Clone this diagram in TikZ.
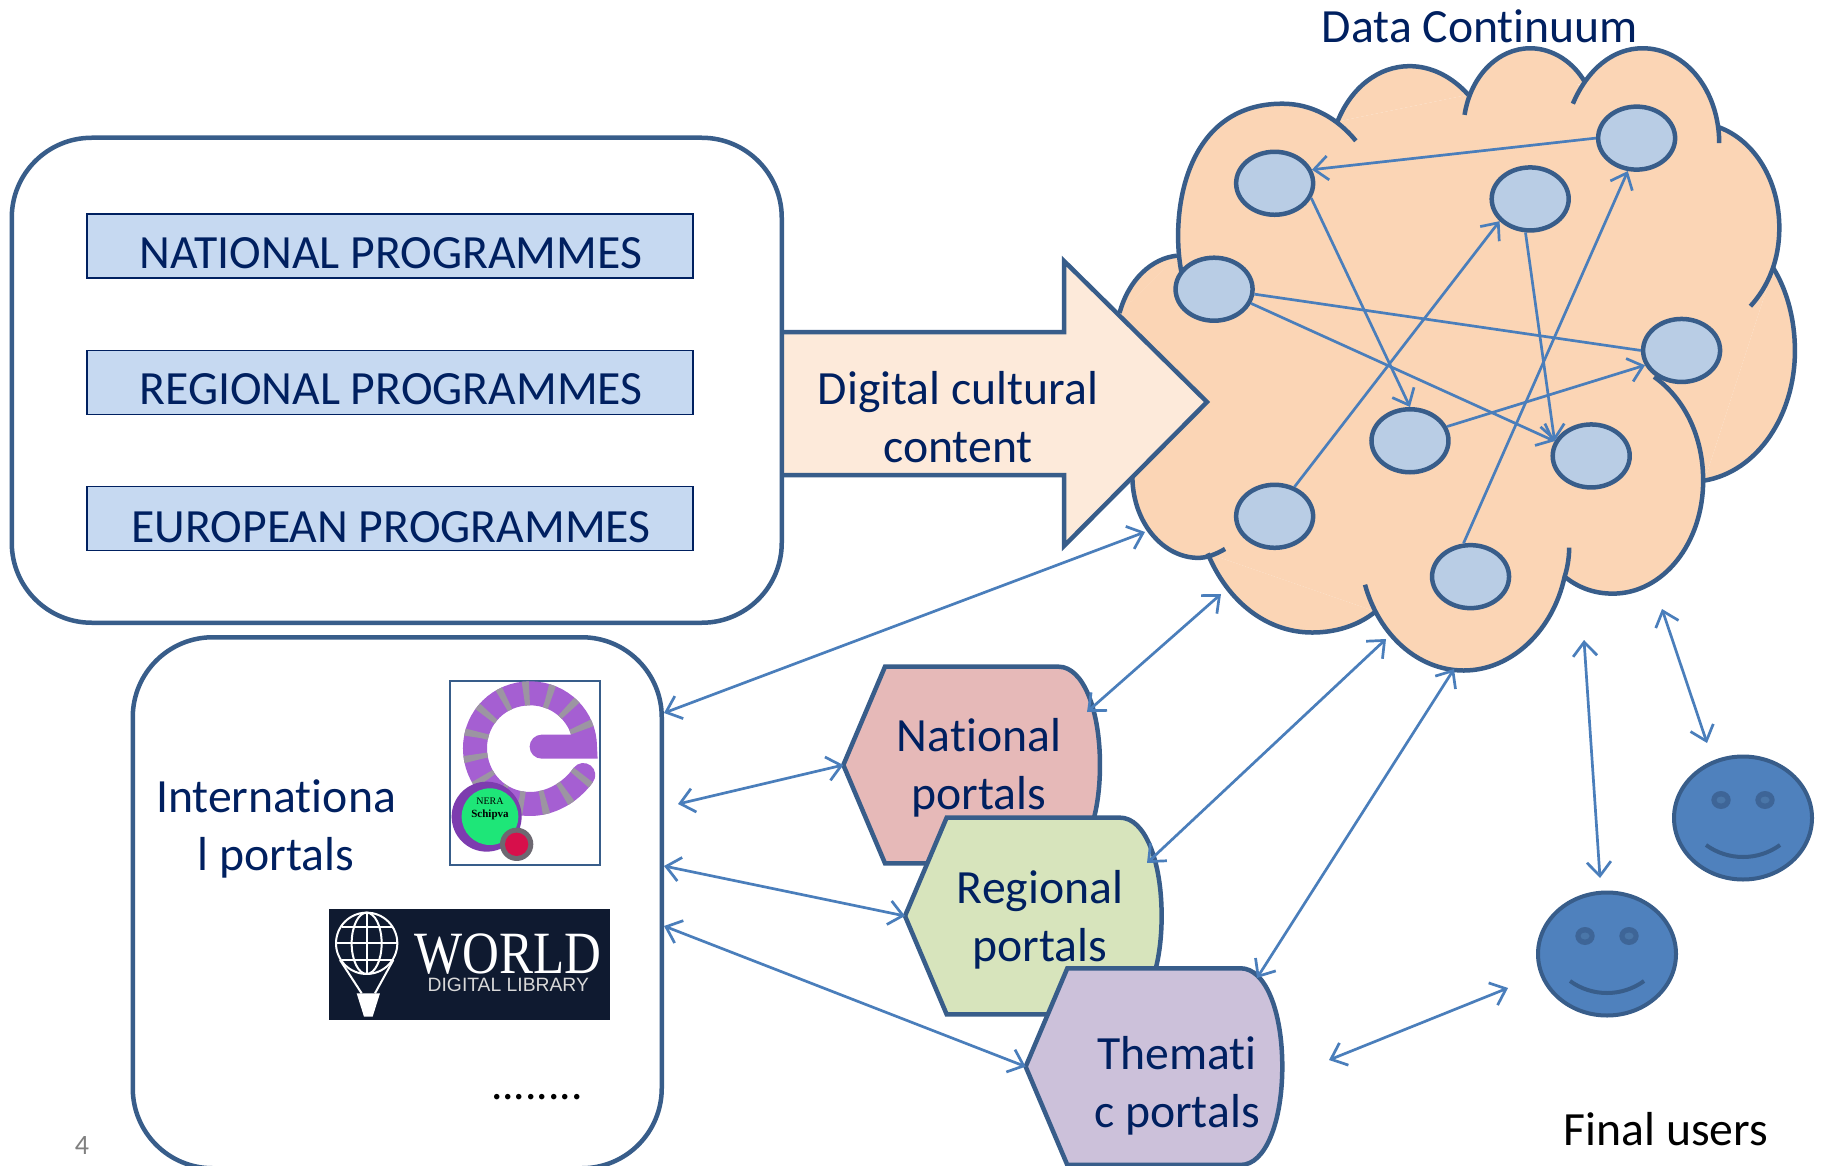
\documentclass[tikz,border=0pt]{standalone}
\usepackage{fontspec}
\setmainfont{Carlito}[Ligatures=NoCommon]
\newfontfamily\serifx{Liberation Serif}
\newfontfamily\sansx{Liberation Sans}
\usetikzlibrary{arrows.meta,shapes.geometric}
\definecolor{edgeblue}{HTML}{385D8A}
\definecolor{linkblue}{HTML}{4A7EBB}
\definecolor{navy}{HTML}{002060}
\definecolor{cloudfill}{HTML}{FBD5B5}
\definecolor{nodefill}{HTML}{B9CDE5}
\definecolor{boxfill}{HTML}{C6D9F1}
\definecolor{arrowfill}{HTML}{FDEADA}
\definecolor{natfill}{HTML}{E6B9B8}
\definecolor{regfill}{HTML}{D7E4BC}
\definecolor{themfill}{HTML}{CCC1DA}
\definecolor{smile}{HTML}{4F81BD}
\definecolor{eyedark}{HTML}{3E6597}
\definecolor{eyelight}{HTML}{4A76A8}
\definecolor{wdl}{HTML}{0F1A30}
\definecolor{ringpurple}{HTML}{A55FD2}
\definecolor{ringgrey}{HTML}{9C95A2}
\definecolor{ringdark}{HTML}{7D3CAF}
\definecolor{logogreen}{HTML}{1EE678}
\definecolor{logored}{HTML}{D70F4B}
\tikzset{
 x=1pt,y=-1pt,
 outline/.style={draw=edgeblue,line width=4.5pt},
 panel/.style={outline,fill=white,rounded corners=80pt},
 prog/.style={draw=navy,line width=1.4pt,fill=boxfill,minimum width=606pt,minimum height=64pt},
 label/.style={text=navy,font=\fontsize{47.7}{57.5}\selectfont,align=center,inner sep=0pt},
 netnode/.style={ellipse,outline,fill=nodefill,minimum width=77pt,minimum height=63pt,inner sep=0pt},
 link/.style={draw=linkblue,line width=2.7pt,-{Straight Barb[length=14pt,width=24pt,line width=2.7pt]}},
 both/.style={link,{Straight Barb[length=14pt,width=24pt,line width=2.7pt]}-{Straight Barb[length=14pt,width=24pt,line width=2.7pt]}},
 plain/.style={draw=linkblue,line width=2.7pt},
 face/.style={ellipse,draw=edgeblue,line width=4pt,fill=smile,minimum width=138pt,minimum height=123pt,inner sep=0pt},
}
\newcommand{\hexa}[4]{%
 \begin{scope}[shift={(820,650)},x=0.3333pt,y=-0.3333pt,shift={(#3,#4)}]
 \draw[outline,fill=#2] (70,345) coordinate (#1tip) -- (195,50) -- (715,50) .. controls (790,50) and (840,180) .. (840,345) .. controls (840,510) and (790,640) .. (715,640) -- (195,640) -- cycle;
 \end{scope}}
\newcommand{\lobefill}[1]{\fill[cloudfill] #1;}
\newcommand{\lobedraw}[1]{\draw[outline] #1;}
\newcommand{\alllobes}[1]{%
 #1{(40,700) .. controls (60,625) and (110,578) .. (165,572)}
 #1{(175,610) .. controls (150,480) and (180,232) .. (395,232) .. controls (460,232) and (515,265) .. (555,315)}
 #1{(515,272) .. controls (545,195) and (605,148) .. (672,148) .. controls (720,148) and (765,172) .. (800,212)}
 #1{(792,257) .. controls (805,170) and (865,108) .. (935,108) .. controls (985,108) and (1030,140) .. (1055,185)}
 #1{(1028,232) .. controls (1060,155) and (1115,108) .. (1180,108) .. controls (1275,108) and (1347,205) .. (1347,320)}
 #1{(1347,285) .. controls (1425,315) and (1478,405) .. (1478,510) .. controls (1478,580) and (1455,640) .. (1415,685)}
 #1{(1465,600) .. controls (1495,650) and (1512,715) .. (1512,785) .. controls (1512,930) and (1430,1055) .. (1315,1075)}
 #1{(1205,843) .. controls (1270,890) and (1312,975) .. (1312,1075) .. controls (1312,1215) and (1225,1328) .. (1115,1328) .. controls (1075,1328) and (1040,1315) .. (1010,1290)}
 #1{(1020,1225) .. controls (1020,1250) and (1015,1275) .. (1010,1290) .. controls (985,1410) and (895,1500) .. (790,1500) .. controls (690,1500) and (605,1420) .. (575,1308)}
 #1{(598,1368) .. controls (560,1400) and (510,1415) .. (460,1415) .. controls (360,1415) and (275,1345) .. (232,1238)}
 #1{(270,1228) .. controls (250,1240) and (230,1248) .. (212,1248) .. controls (135,1248) and (70,1170) .. (68,1070)}
}
\begin{document}
\begin{tikzpicture}
\useasboundingbox (0,0) rectangle (1822,1166);
\fill[white] (0,0) rectangle (1822,1166);
% cloud
\begin{scope}[shift={(1101.2,0)},x=0.4588pt,y=-0.447pt]
\fill[cloudfill] (40,700)--(165,572)--(175,610)--(515,272)--(800,212)--(935,150)--(1040,190)--(1180,150)--(1347,285)--(1465,600)--(1315,1075)--(1010,1290)--(598,1368)--(232,1238)--(68,1070)--cycle;
\alllobes{\lobefill}
\alllobes{\lobedraw}
\node[netnode] (nA) at (378,410) {};
\node[netnode] (nB) at (935,445) {};
\node[netnode] (nC) at (1167,309) {};
\node[netnode] (nD) at (246,647) {};
\node[netnode] (nE) at (1265,784) {};
\node[netnode] (nF) at (673,986) {};
\node[netnode] (nG) at (1068,1020) {};
\node[netnode] (nH) at (378,1155) {};
\node[netnode] (nI) at (805,1290) {};
\end{scope}
\draw[link] (nC.180) -- (nA.20);
\draw[link] (nA.-22) -- (nF.90);
\draw[link] (nH.56) -- (nB.-144);
\draw[link] (nB.-98) -- (nG.158);
\draw[link] (nI.102) -- (nC.-105);
\draw[link] (nD.-21) -- (nG.158);
\draw[link] (nF.21) -- (nE.-158);
\draw[plain] (nD.-7) -- (nE.180);
% block arrow
\draw[outline,fill=arrowfill,line join=miter] (782,332) -- (1064,332) -- (1064,261) -- (1207,402) -- (1064,546) -- (1064,475) -- (782,475);
% panels
\node[panel,minimum width=770pt,minimum height=485pt,anchor=north west] (prgpanel) at (9.5,135.5) {};
\node[prog] (bn) at (390,246) {};
\node[prog] (br) at (390,382.5) {};
\node[prog] (be) at (390,518.5) {};
\node[label] (tn) at (391,253) {NATIONAL PROGRAMMES};
\node[label] (tr) at (391,389) {REGIONAL PROGRAMMES};
\node[label] (te) at (391,527) {EUROPEAN PROGRAMMES};
\node[label] (digital) at (958,417) {Digital cultural\\content};
\node[label] (title) at (1480,26) {Data Continuum};
\node[panel,minimum width=529pt,minimum height=531pt,anchor=north west] (intl) at (130.5,635) {};
\node[label] (intltext) at (276,829) {Internationa\\l portals};
% logo
\node[draw=edgeblue,line width=1.5pt,fill=white,minimum width=150pt,minimum height=184pt,inner sep=0pt] (logo) at (525,773) {};
\begin{scope}[shift={(300,660)},x=0.3333pt,y=-0.3333pt]
\draw[color=ringpurple,line width=24pt,line cap=round] (850,345) .. controls (810,400) and (750,432) .. (690,432) .. controls (595,432) and (525,355) .. (525,265) .. controls (525,170) and (600,100) .. (690,100) .. controls (785,100) and (855,175) .. (855,260) -- (725,260);
\draw[color=ringgrey,line width=24pt,dash pattern=on 6pt off 17pt] (850,345) .. controls (810,400) and (750,432) .. (690,432) .. controls (595,432) and (525,355) .. (525,265) .. controls (525,170) and (600,100) .. (690,100) .. controls (785,100) and (855,175) .. (855,260);
\fill[ringdark] (560,470) circle[radius=105];
\fill[logogreen] (570,470) circle[radius=85];
\node[font=\serifx\fontsize{10}{10}\selectfont,inner sep=0pt] (lg1) at (570,425) {NERA};
\node[font=\serifx\bfseries\fontsize{11}{11}\selectfont,inner sep=0pt] (lg2) at (570,465) {Schipva};
\fill[ringgrey!70!black] (650,553) circle[radius=50];
\fill[logored] (650,553) circle[radius=35];
\end{scope}
% world digital library
\node[fill=wdl,minimum width=281pt,minimum height=111pt,inner sep=0pt,anchor=north west] (wdlbox) at (329,909) {};
\begin{scope}[shift={(300,660)},x=0.3333pt,y=-0.3333pt]
\begin{scope}[draw=white,line width=2pt]
\draw (200,850) circle[radius=92];
\draw (200,850) ellipse[x radius=45,y radius=92];
\draw (108,850) -- (292,850);
\draw (125,800) -- (275,800);
\draw (125,900) -- (275,900);
\draw (200,758) -- (200,942);
\draw (120,900) -- (185,1000);
\draw (280,900) -- (225,1000);
\end{scope}
\fill[white] (170,1000) -- (240,1000) -- (218,1070) -- (192,1070) -- cycle;
\node[text=white,font=\serifx\fontsize{60}{60}\selectfont,xscale=0.85,inner sep=0pt] (wdl1) at (625,883) {WORLD};
\node[text=white!85!black,font=\sansx\fontsize{19.3}{19.3}\selectfont,inner sep=0pt] (wdl2) at (625,976) {DIGITAL LIBRARY};
\end{scope}
\node[inner sep=0pt,font=\fontsize{45.5}{46}\selectfont] (dots) at (537,1097) {........};
\node[inner sep=0pt,text=gray,font=\fontsize{28}{28}\selectfont] (pagenum) at (82,1145) {4};
% portals
\hexa{nat}{natfill}{0}{0}
\hexa{reg}{regfill}{185}{453}
\hexa{them}{themfill}{547}{905}
\node[label] (tnat) at (979,768) {National\\portals};
\node[label] (treg) at (1040,920) {Regional\\portals};
\node[label] (tthem) at (1177,1086) {Themati\\c portals};
% users
\node[face] (u1) at (1743,818) {};
\node[face] (u2) at (1607,954) {};
\foreach \c/\e in {1743/818,1607/954}{
 \fill[eyedark] (\c-22,\e-18) ellipse[x radius=9.7,y radius=9];
 \fill[eyedark] (\c+22,\e-18) ellipse[x radius=9.7,y radius=9];
 \fill[eyelight] (\c-22,\e-18) ellipse[x radius=4.5,y radius=3.5];
 \fill[eyelight] (\c+22,\e-18) ellipse[x radius=4.5,y radius=3.5];
 \draw[edgeblue,line width=4pt] (\c-37,\e+27) .. controls (\c-15,\e+43) and (\c+15,\e+43) .. (\c+37,\e+27);
}
\node[inner sep=0pt,font=\fontsize{47.7}{48}\selectfont] (fu) at (1666,1129) {Final users};
% free ends
\coordinate (c1) at (1145,532);
\coordinate (c2) at (1221,594);
\coordinate (c3) at (1386,639);
\coordinate (c4) at (1454,669);
\coordinate (c5) at (1662,609);
\coordinate (c6) at (1584,640);
\coordinate (p1) at (664,713);
\coordinate (p2) at (1087,712);
\coordinate (p3) at (1147,863);
\coordinate (p4) at (1257,978);
\coordinate (p5) at (1707,743);
\coordinate (p6) at (1600,878);
\coordinate (i1) at (678,804);
\coordinate (i2) at (664,866);
\coordinate (i3) at (664,926);
\coordinate (q1) at (1329,1060);
\coordinate (q2) at (1508,988);
\draw[both] (p1) -- (c1);
\draw[both] (p2) -- (c2);
\draw[both] (p3) -- (c3);
\draw[both] (p4) -- (c4);
\draw[both] (p5) -- (c5);
\draw[both] (p6) -- (c6);
\draw[both] (i1) -- (nattip);
\draw[both] (i2) -- (regtip);
\draw[both] (i3) -- (themtip);
\draw[both] (q1) -- (q2);
\end{tikzpicture}
\end{document}
